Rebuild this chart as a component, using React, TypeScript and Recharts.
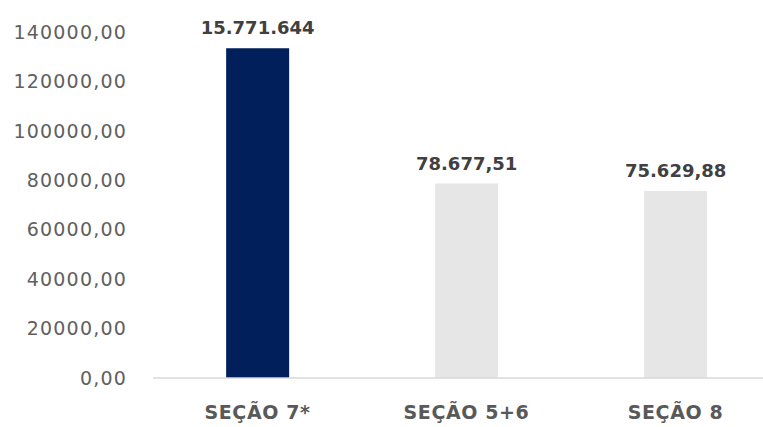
import { BarChart, Bar, XAxis, YAxis, Cell, LabelList } from 'recharts'

const categories = ['SEÇÃO 7*', 'SEÇÃO 5+6', 'SEÇÃO 8']
const values = [133400, 78677.51, 75629.88]
const valueLabels = ['15.771.644', '78.677,51', '75.629,88']
const yTicks = [0, 20000, 40000, 60000, 80000, 100000, 120000, 140000]

const BAR_COLORS = ['#001f5b', '#e6e6e6', '#e6e6e6']
const FONT = '"DejaVu Sans", sans-serif'

const data = categories.map((name, i) => ({ name, value: values[i], label: valueLabels[i] }))

const fmtTick = (v: number) => v.toFixed(2).replace('.', ',')

export default function App() {
  return (
    <div
      style={{
        position: 'fixed',
        left: 0,
        top: 0,
        width: 763,
        height: 427,
        overflow: 'hidden',
        background: '#fff',
      }}
    >
      <BarChart
        width={780}
        height={427}
        data={data}
        margin={{ top: 32, right: 0, left: 0, bottom: 0 }}
        barCategoryGap="35%"
      >
        <XAxis
          dataKey="name"
          height={49}
          tickLine={false}
          axisLine={{ stroke: '#d9d9d9', strokeWidth: 1.5 }}
          tickMargin={22}
          tick={{ fill: '#595959', fontSize: 19, fontWeight: 700, fontFamily: FONT, letterSpacing: 0.6 }}
        />
        <YAxis
          width={153}
          domain={[0, 140000]}
          ticks={yTicks}
          tickFormatter={fmtTick}
          tickLine={false}
          axisLine={false}
          tickMargin={20}
          tick={{ fill: '#606060', fontSize: 19, fontFamily: FONT, letterSpacing: 1.2 }}
        />
        <Bar dataKey="value" isAnimationActive={false}>
          {data.map((d, i) => (
            <Cell key={d.name} fill={BAR_COLORS[i]} />
          ))}
          <LabelList
            dataKey="label"
            position="top"
            offset={14}
            fill="#404040"
            fontSize={18}
            fontWeight={700}
            fontFamily={FONT}
          />
        </Bar>
      </BarChart>
    </div>
  )
}
